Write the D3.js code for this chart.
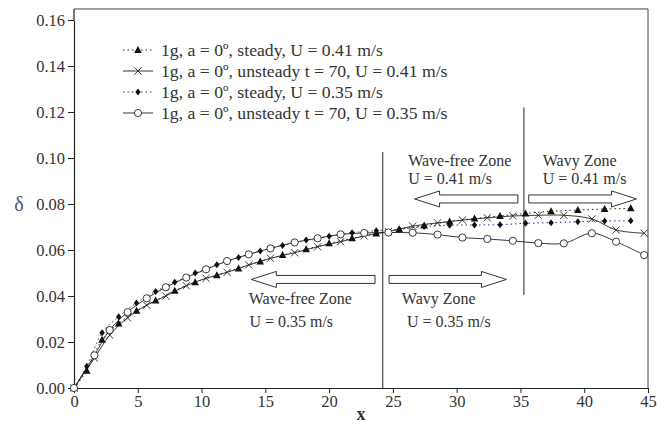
<!DOCTYPE html>
<html><head><meta charset="utf-8">
<script src="https://cdn.jsdelivr.net/npm/d3@7/dist/d3.min.js"></script>
<style>
body{margin:0;background:#fff}
svg{display:block}
text{font-family:"Liberation Serif","Times New Roman",serif}
</style>
</head><body>
<svg id="c" width="667" height="426"></svg>
<script>
// ---------- data ----------
const xTicks = [0,5,10,15,20,25,30,35,40,45];
const yTicks = [0,0.02,0.04,0.06,0.08,0.10,0.12,0.14,0.16];

const xSteady = [0,1.0,2.2,3.5,4.9,6.4,7.9,9.5,11.2,12.9,14.6,16.35,18.2,20.0,21.8,23.7,25.5,27.45,29.45,31.4,33.4,35.4,37.4,39.5,41.6,43.65];
const steady041 = [0,0.0075,0.021,0.028,0.0336,0.038,0.0423,0.046,0.049,0.052,0.055,0.0578,0.0603,0.0629,0.0651,0.0672,0.069,0.0706,0.0724,0.0737,0.0748,0.0759,0.0768,0.0774,0.0778,0.0781];
const steady035 = [0,0.0095,0.024,0.031,0.037,0.042,0.046,0.050,0.0536,0.0567,0.0596,0.062,0.0643,0.066,0.0675,0.0684,0.069,0.0702,0.0708,0.0709,0.071,0.0716,0.0719,0.0723,0.0726,0.0727];

const xUnsteady = [0,1.6,2.8,4.2,5.7,7.2,8.8,10.35,12.0,13.7,15.4,17.3,19.1,20.9,22.75,24.65,26.55,28.5,30.45,32.4,34.4,36.4,38.4,40.6,42.5,44.7];
const unsteady041 = [0,0.013,0.023,0.0305,0.036,0.040,0.0445,0.0477,0.0503,0.0535,0.0564,0.0588,0.0614,0.0636,0.0661,0.068,0.0704,0.0718,0.073,0.074,0.0748,0.0751,0.0751,0.0735,0.0687,0.0673];
const unsteady035 = [0,0.0142,0.0252,0.033,0.039,0.0438,0.048,0.0516,0.0552,0.0581,0.0607,0.0633,0.0651,0.0668,0.0674,0.0676,0.0675,0.0667,0.0654,0.0648,0.064,0.063,0.0629,0.0673,0.0636,0.0578];

const seriesNames = [
  "1g, a = 0º, steady, U = 0.41 m/s",
  "1g, a = 0º, unsteady t = 70, U = 0.41 m/s",
  "1g, a = 0º, steady, U = 0.35 m/s",
  "1g, a = 0º, unsteady t = 70, U = 0.35 m/s"
];
const zoneLabels = ["Wave-free Zone","Wavy Zone"];
const speedLabels = ["U = 0.41 m/s","U = 0.35 m/s"];
const zoneBoundaries = [24.2, 35.27];

// ---------- layout ----------
const svg = d3.select("#c");
const x = d3.scaleLinear().domain([0,45]).range([74,648]);
const y = d3.scaleLinear().domain([0,0.16]).range([388,20]);
const yTop = 0.1648;

const series = [
  {name:seriesNames[0], xs:xSteady,   ys:steady041,   marker:"tri",   stroke:"#111", dash:"1.5,3"},
  {name:seriesNames[1], xs:xUnsteady, ys:unsteady041, marker:"x",     stroke:"#222", dash:null},
  {name:seriesNames[2], xs:xSteady,   ys:steady035,   marker:"dia",   stroke:"#1c1c8a", dash:"1.5,3"},
  {name:seriesNames[3], xs:xUnsteady, ys:unsteady035, marker:"circ",  stroke:"#222", dash:null}
];

// frame
svg.append("line").attr("x1",x(0)).attr("x2",x(45)).attr("y1",y(yTop)).attr("y2",y(yTop)).attr("stroke","#444").attr("stroke-width",1);
svg.append("line").attr("x1",x(45)).attr("x2",x(45)).attr("y1",y(yTop)).attr("y2",y(0)).attr("stroke","#444").attr("stroke-width",1);

// axes
const gy = svg.append("g").attr("transform",`translate(${x(0)},0)`)
  .call(d3.axisLeft(y).tickValues(yTicks).tickFormat(d3.format(".2f")).tickSize(6).tickPadding(3).tickSizeOuter(0));
const gx = svg.append("g").attr("transform",`translate(0,${y(0)})`)
  .call(d3.axisBottom(x).tickValues(xTicks).tickFormat(d3.format("d")).tickSize(5).tickPadding(2).tickSizeOuter(0));
[gx,gy].forEach(g=>{
  g.select(".domain").attr("stroke","#222").attr("stroke-width",1.2);
  g.selectAll(".tick line").attr("stroke","#222");
  g.selectAll(".tick text").attr("font-family","Liberation Serif").attr("font-size",16.5).attr("fill","#333");
});
svg.append("line").attr("x1",x(0)).attr("x2",x(0)).attr("y1",y(yTop)).attr("y2",y(0.16)).attr("stroke","#222").attr("stroke-width",1.2);

svg.append("text").attr("x",x(22.5)).attr("y",420).attr("text-anchor","middle")
  .attr("font-size",18).attr("font-weight","bold").attr("fill","#333").text("x");
svg.append("text").attr("x",19).attr("y",y(0.08)).attr("dy","0.35em").attr("text-anchor","middle")
  .attr("font-size",20).attr("fill","#4d5666").text("δ");

// zone boundary lines
svg.append("line").attr("x1",x(zoneBoundaries[0])).attr("x2",x(zoneBoundaries[0]))
  .attr("y1",y(0.1026)).attr("y2",y(0)).attr("stroke","#555").attr("stroke-width",1.3);
svg.append("line").attr("x1",x(zoneBoundaries[1])).attr("x2",x(zoneBoundaries[1]))
  .attr("y1",y(0.122)).attr("y2",y(0.0404)).attr("stroke","#555").attr("stroke-width",1.3);

// block arrows
function arrow(xTail, xTip, yc){
  const t = x(xTail), p = x(xTip), c = y(yc);
  const dir = p > t ? 1 : -1, hl = 25, bh = 4, hh = 8;
  const b = p - dir*hl;
  const path = `M${t},${c-bh}L${b},${c-bh}L${b},${c-hh}L${p},${c}L${b},${c+hh}L${b},${c+bh}L${t},${c+bh}Z`;
  svg.append("path").attr("d",path).attr("fill","#fff").attr("stroke","#333").attr("stroke-width",1);
}
arrow(34.8, 26.7, 0.0822);
arrow(35.65, 44.1, 0.0822);
arrow(23.6, 13.9, 0.0472);
arrow(24.7, 33.9, 0.0472);

function label(xv, yv, txt){
  svg.append("text").attr("x",x(xv)).attr("y",y(yv)).attr("font-size",16).attr("fill","#333").text(txt);
}
label(26.2, 0.0967, zoneLabels[0]); label(26.2, 0.0887, speedLabels[0]);
label(36.75, 0.0967, zoneLabels[1]); label(36.75, 0.0887, speedLabels[0]);
label(13.7, 0.0365, zoneLabels[0]); label(13.75, 0.0265, speedLabels[1]);
label(25.7, 0.0365, zoneLabels[1]); label(26.1, 0.0265, speedLabels[1]);

// markers
function drawMarker(g, type, cx, cy){
  if(type==="tri"){
    g.append("path").attr("d",`M${cx},${cy-4}L${cx+3.8},${cy+3}L${cx-3.8},${cy+3}Z`).attr("fill","#111");
  } else if(type==="dia"){
    g.append("path").attr("d",`M${cx},${cy-3.5}L${cx+2.7},${cy}L${cx},${cy+3.5}L${cx-2.7},${cy}Z`).attr("fill","#111");
  } else if(type==="x"){
    g.append("path").attr("d",`M${cx-3.6},${cy-3.6}L${cx+3.6},${cy+3.6}M${cx-3.6},${cy+3.6}L${cx+3.6},${cy-3.6}`).attr("stroke","#222").attr("stroke-width",0.9).attr("fill","none");
  } else {
    g.append("circle").attr("cx",cx).attr("cy",cy).attr("r",3.6).attr("fill","#fff").attr("stroke","#222").attr("stroke-width",0.9);
  }
}

const line = d3.line().x(d=>x(d[0])).y(d=>y(d[1])).curve(d3.curveCatmullRom.alpha(0.5));
series.forEach(s=>{
  const pts = s.xs.map((v,i)=>[v, s.ys[i]]);
  const p = svg.append("path").attr("d",line(pts)).attr("fill","none").attr("stroke",s.stroke).attr("stroke-width",0.9);
  if(s.dash) p.attr("stroke-dasharray",s.dash);
});
series.forEach(s=>{
  const g = svg.append("g");
  s.xs.forEach((v,i)=>drawMarker(g, s.marker, x(v), y(s.ys[i])));
});

// legend
const legY = [50,71,92,113];
series.forEach((s,i)=>{
  const g = svg.append("g");
  const ln = g.append("line").attr("x1",123).attr("x2",153).attr("y1",legY[i]).attr("y2",legY[i])
    .attr("stroke",s.stroke).attr("stroke-width",0.9);
  if(s.dash) ln.attr("stroke-dasharray",s.dash);
  drawMarker(g, s.marker, 138, legY[i]);
  g.append("text").attr("x",161).attr("y",legY[i]).attr("dy","0.35em").attr("font-size",17.7).attr("fill","#333").text(s.name);
});
</script>
</body></html>
